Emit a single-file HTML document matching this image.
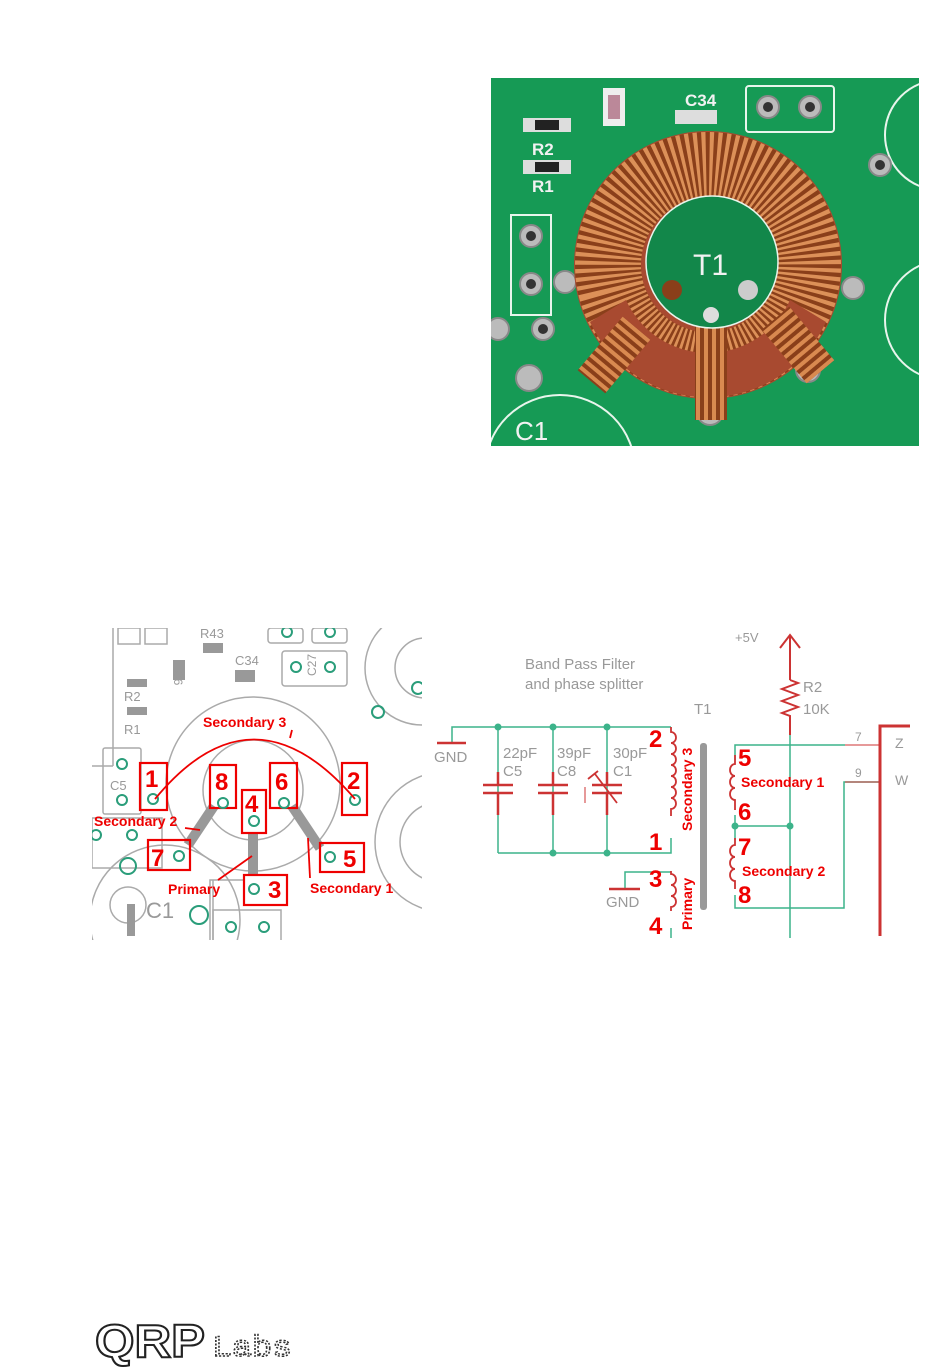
<!DOCTYPE html>
<html><head><meta charset="utf-8"><style>
html,body{margin:0;padding:0;background:#fff;}
body{width:950px;height:1369px;position:relative;overflow:hidden;font-family:"Liberation Sans",sans-serif;}
svg{position:absolute;left:0;top:0;}
</style></head><body>
<svg width="950" height="1369" viewBox="0 0 950 1369" xmlns="http://www.w3.org/2000/svg">
<defs>
<clipPath id="ph"><rect x="491" y="78" width="428" height="368"/></clipPath>
<clipPath id="pcb"><rect x="92" y="628" width="330" height="312"/></clipPath>
<pattern id="wind" width="8" height="8" patternUnits="userSpaceOnUse"><rect width="8" height="8" fill="#8a3f1a"/><rect width="4" height="8" fill="#d98a50"/></pattern>
<pattern id="windh" width="8" height="8" patternUnits="userSpaceOnUse"><rect width="8" height="8" fill="#8a3f1a"/><rect width="8" height="4" fill="#d98a50"/></pattern>
</defs>

<!-- PHOTO -->
<g clip-path="url(#ph)">
<rect x="491" y="78" width="428" height="368" fill="#169a55"/>
<g fill="none" stroke="#e8f5ec" stroke-width="2">
<rect x="746" y="86" width="88" height="46" rx="3"/>
<rect x="511" y="215" width="40" height="100"/>
<circle cx="940" cy="135" r="55"/><circle cx="945" cy="320" r="60"/>
<circle cx="560" cy="470" r="75"/>
</g>
<rect x="523" y="118" width="48" height="14" fill="#ddd"/><rect x="535" y="120" width="24" height="10" fill="#222"/>
<rect x="523" y="160" width="48" height="14" fill="#ddd"/><rect x="535" y="162" width="24" height="10" fill="#222"/>
<rect x="603" y="88" width="22" height="38" fill="#eee"/><rect x="608" y="95" width="12" height="24" fill="#b89"/>
<rect x="675" y="110" width="42" height="14" fill="#ddd"/>
<text x="532" y="155" font-size="17" font-weight="bold" fill="#f2f2f2">R2</text>
<text x="532" y="192" font-size="17" font-weight="bold" fill="#f2f2f2">R1</text>
<text x="685" y="106" font-size="17" font-weight="bold" fill="#f2f2f2">C34</text>
<text x="515" y="440" font-size="26" fill="#f2f2f2">C1</text>
<g fill="#bbb" stroke="#888" stroke-width="2">
<circle cx="768" cy="107" r="11"/><circle cx="810" cy="107" r="11"/><circle cx="880" cy="165" r="11"/>
<circle cx="531" cy="236" r="11"/><circle cx="531" cy="284" r="11"/><circle cx="498" cy="329" r="11"/><circle cx="543" cy="329" r="11"/>
<circle cx="529" cy="378" r="13"/><circle cx="608" cy="361" r="12"/><circle cx="710" cy="412" r="13"/><circle cx="808" cy="370" r="12"/>
<circle cx="565" cy="282" r="11"/><circle cx="853" cy="288" r="11"/>
</g>
<g fill="#333"><circle cx="768" cy="107" r="5"/><circle cx="810" cy="107" r="5"/><circle cx="880" cy="165" r="5"/><circle cx="531" cy="236" r="5"/><circle cx="531" cy="284" r="5"/><circle cx="543" cy="329" r="5"/></g>
<circle cx="708" cy="265" r="134" fill="#a84a30"/>
<circle cx="708" cy="265" r="100" fill="none" stroke="#8a3f1a" stroke-width="66"/>
<path d="M 708 265 L 585 320 A 134 134 0 0 1 831 320 Z" fill="none"/>
<circle cx="708" cy="265" r="100" fill="none" stroke="#dc9058" stroke-width="66" stroke-dasharray="4.5 4.5" transform="rotate(165 708 265)" pathLength="628" style="stroke-dasharray:3.3 3.3 3.3 3.3"/>
<path d="M 590 322 A 130 130 0 0 0 826 322 L 790 300 A 90 90 0 0 1 626 300 Z" fill="#a84a30"/>
<rect x="695" y="305" width="32" height="115" fill="url(#wind)"/>
<rect x="596" y="320" width="36" height="70" fill="url(#windh)" transform="rotate(40 614 355)"/>
<rect x="780" y="310" width="36" height="70" fill="url(#windh)" transform="rotate(-40 798 345)"/>
<circle cx="712" cy="262" r="66" fill="#12874a" stroke="#e8f5ec" stroke-width="1.5"/>
<text x="693" y="275" font-size="30" fill="#f2f2f2">T1</text>
<circle cx="672" cy="290" r="10" fill="#8a3f1a"/><circle cx="748" cy="290" r="10" fill="#ccc"/><circle cx="711" cy="315" r="8" fill="#ddd"/>
</g>

<!-- PCB LAYOUT -->
<g clip-path="url(#pcb)">
<rect x="92" y="628" width="330" height="312" fill="#fff"/>
<g fill="none" stroke="#aaa" stroke-width="1.5">
<circle cx="253" cy="784" r="87"/><circle cx="253" cy="790" r="50"/>
<circle cx="422" cy="668" r="57"/><circle cx="425" cy="668" r="30"/>
<circle cx="445" cy="842" r="70"/><circle cx="440" cy="842" r="40"/>
<circle cx="165" cy="920" r="75"/><circle cx="128" cy="905" r="18"/>
<rect x="103" y="748" width="38" height="66" rx="2"/>
<rect x="92" y="818" width="70" height="50"/>
<rect x="282" y="651" width="65" height="35" rx="3"/>
<rect x="268" y="628" width="35" height="15" rx="3"/><rect x="312" y="628" width="35" height="15" rx="3"/>
<rect x="118" y="628" width="22" height="16"/><rect x="145" y="628" width="22" height="16"/>
<line x1="113" y1="628" x2="113" y2="766"/><line x1="92" y1="766" x2="113" y2="766"/>
<path d="M210 940 V880 H243"/><path d="M213 880 V940"/><rect x="213" y="910" width="68" height="40"/>
</g>
<rect x="127" y="679" width="20" height="8" fill="#999"/><rect x="127" y="707" width="20" height="8" fill="#999"/>
<rect x="203" y="643" width="20" height="10" fill="#999"/><rect x="173" y="660" width="12" height="20" fill="#999"/><rect x="235" y="670" width="20" height="12" fill="#999"/>
<rect x="127" y="904" width="8" height="32" fill="#999"/>
<g font-size="13" fill="#999">
<text x="124" y="701">R2</text><text x="124" y="734">R1</text><text x="235" y="665">C34</text><text x="200" y="638">R43</text>
<text x="110" y="790">C5</text><text x="146" y="918" font-size="22">C1</text>
<text x="190" y="686" font-size="12" transform="rotate(90 190 670)">C6</text>
<text x="306" y="674" font-size="12" transform="rotate(-90 312 670)">C27</text>
</g>
<g stroke="#999" stroke-width="10" fill="none">
<line x1="253" y1="833" x2="253" y2="876"/><line x1="214" y1="806" x2="188" y2="845"/><line x1="292" y1="806" x2="320" y2="848"/>
</g>
<g fill="none" stroke="#2a9d7a" stroke-width="2">
<circle cx="122" cy="764" r="5"/><circle cx="122" cy="800" r="5"/><circle cx="96" cy="835" r="5"/><circle cx="132" cy="835" r="5"/>
<circle cx="128" cy="866" r="8"/><circle cx="199" cy="915" r="9"/><circle cx="231" cy="927" r="5"/><circle cx="264" cy="927" r="5"/>
<circle cx="296" cy="667" r="5"/><circle cx="330" cy="667" r="5"/><circle cx="378" cy="712" r="6"/><circle cx="418" cy="688" r="6"/>
<circle cx="287" cy="632" r="5"/><circle cx="330" cy="632" r="5"/>
</g>
<g fill="none" stroke="#e00" stroke-width="2.2">
<rect x="140" y="763" width="27" height="47"/><rect x="210" y="765" width="26" height="43"/><rect x="242" y="790" width="24" height="43"/>
<rect x="270" y="763" width="27" height="45"/><rect x="342" y="763" width="25" height="52"/><rect x="148" y="840" width="42" height="30"/>
<rect x="320" y="843" width="44" height="29"/><rect x="244" y="875" width="43" height="30"/>
</g>
<g fill="none" stroke="#2a9d7a" stroke-width="2">
<circle cx="153" cy="799" r="5"/><circle cx="223" cy="803" r="5"/><circle cx="254" cy="821" r="5"/><circle cx="284" cy="803" r="5"/>
<circle cx="355" cy="800" r="5"/><circle cx="179" cy="856" r="5"/><circle cx="330" cy="857" r="5"/><circle cx="254" cy="889" r="5"/>
</g>
<g fill="#e00" font-weight="bold" font-size="24">
<text x="145" y="787">1</text><text x="215" y="790">8</text><text x="245" y="812">4</text><text x="275" y="790">6</text><text x="347" y="789">2</text>
<text x="151" y="866">7</text><text x="343" y="867">5</text><text x="268" y="898">3</text>
</g>
<g fill="none" stroke="#e00" stroke-width="1.8">
<path d="M155 799 Q 253 680 355 799"/>
<line x1="292" y1="730" x2="290" y2="738"/>
<line x1="185" y1="828" x2="200" y2="830"/>
<line x1="218" y1="880" x2="252" y2="856"/>
<line x1="308" y1="838" x2="310" y2="878"/>
</g>
<g fill="#e00" font-weight="bold" font-size="14">
<text x="203" y="727">Secondary 3</text><text x="94" y="826">Secondary 2</text><text x="168" y="894">Primary</text><text x="310" y="893">Secondary 1</text>
</g>
</g>

<!-- SCHEMATIC -->
<g fill="none" stroke="#3cb38a" stroke-width="1.5">
<path d="M452 742 V727 H671"/>
<line x1="498" y1="727" x2="498" y2="853"/><line x1="553" y1="727" x2="553" y2="853"/><line x1="607" y1="727" x2="607" y2="853"/>
<path d="M498 853 H671 V838"/>
<path d="M671 872 H625 V888"/>
<line x1="671" y1="928" x2="671" y2="938"/>
<path d="M735 760 V745 H845"/>
<line x1="735" y1="815" x2="735" y2="840"/><line x1="735" y1="826" x2="790" y2="826"/>
<path d="M735 895 V908 H844 V782 H880"/>
<line x1="790" y1="720" x2="790" y2="938"/>
</g>
<g fill="#3cb38a"><circle cx="498" cy="727" r="3.5"/><circle cx="553" cy="727" r="3.5"/><circle cx="607" cy="727" r="3.5"/><circle cx="553" cy="853" r="3.5"/><circle cx="607" cy="853" r="3.5"/><circle cx="735" cy="826" r="3.5"/><circle cx="790" cy="826" r="3.5"/></g>
<g fill="none" stroke="#c33" stroke-width="2.5">
<line x1="437" y1="743" x2="466" y2="743"/><line x1="609" y1="889" x2="640" y2="889"/>
<line x1="483" y1="785" x2="513" y2="785"/><line x1="483" y1="793" x2="513" y2="793"/>
<line x1="538" y1="785" x2="568" y2="785"/><line x1="538" y1="793" x2="568" y2="793"/>
<line x1="592" y1="785" x2="622" y2="785"/><line x1="592" y1="793" x2="622" y2="793"/>
<line x1="498" y1="772" x2="498" y2="785"/><line x1="498" y1="793" x2="498" y2="815"/>
<line x1="553" y1="772" x2="553" y2="785"/><line x1="553" y1="793" x2="553" y2="815"/>
<line x1="607" y1="772" x2="607" y2="785"/><line x1="607" y1="793" x2="607" y2="815"/>
<line x1="595" y1="774" x2="617" y2="803" stroke-width="1.8"/><line x1="588" y1="779" x2="598" y2="771" stroke-width="1.8"/>
<line x1="585" y1="803" x2="585" y2="787" stroke-width="1"/>
<path d="M671 727 v5 a5 5.5 0 0 1 0 11 a5 5.5 0 0 1 0 11 a5 5.5 0 0 1 0 11 a5 5.5 0 0 1 0 11 a5 5.5 0 0 1 0 11 a5 5.5 0 0 1 0 11 a5 5.5 0 0 1 0 11 v7" stroke-width="1.8"/>
<path d="M671 871 v3 a5 5.5 0 0 1 0 11 a5 5.5 0 0 1 0 11 a5 5.5 0 0 1 0 11 v4" stroke-width="1.8"/>
<path d="M735 755 v9 a5 6 0 0 0 0 12 a5 6 0 0 0 0 12 a5 6 0 0 0 0 12 v10" stroke-width="1.8"/>
<path d="M735 838 v7 a5 6 0 0 0 0 12 a5 6 0 0 0 0 12 a5 6 0 0 0 0 12 v8" stroke-width="1.8"/>
<path d="M845 745 H880 M845 782 H880" stroke-width="1"/>
<path d="M880 936 V726 H910" stroke-width="3"/>
<path d="M780 648 L790 635 L800 648 M790 635 V680" stroke-width="2"/>
<path d="M790 680 L798 683 L782 689 L798 695 L782 701 L798 707 L782 713 L790 716 V735" stroke-width="2"/>
</g>
<rect x="700" y="743" width="7" height="167" rx="3" fill="#999"/>
<g fill="#999" font-size="15">
<text x="525" y="669">Band Pass Filter</text><text x="525" y="689">and phase splitter</text>
<text x="694" y="714">T1</text><text x="434" y="762">GND</text><text x="606" y="907">GND</text>
<text x="503" y="758">22pF</text><text x="503" y="776">C5</text>
<text x="557" y="758">39pF</text><text x="557" y="776">C8</text>
<text x="613" y="758">30pF</text><text x="613" y="776">C1</text>
<text x="803" y="692">R2</text><text x="803" y="714">10K</text>
<text x="735" y="642" font-size="13">+5V</text>
<text x="895" y="748" font-size="14">Z</text><text x="895" y="785" font-size="14">W</text>
<text x="855" y="741" font-size="12">7</text><text x="855" y="777" font-size="12">9</text>
</g>
<g fill="#e00" font-weight="bold" font-size="24">
<text x="649" y="747">2</text><text x="649" y="850">1</text><text x="649" y="887">3</text><text x="649" y="934">4</text>
<text x="738" y="766">5</text><text x="738" y="820">6</text><text x="738" y="855">7</text><text x="738" y="903">8</text>
</g>
<g fill="#e00" font-weight="bold" font-size="14">
<text x="741" y="787">Secondary 1</text><text x="742" y="876">Secondary 2</text>
<text transform="translate(692 831) rotate(-90)">Secondary 3</text>
<text transform="translate(692 930) rotate(-90)">Primary</text>
</g>

<!-- LOGO -->
<text x="95" y="1357" font-size="46" font-weight="bold" fill="#fff" stroke="#222" stroke-width="2" textLength="110" lengthAdjust="spacingAndGlyphs">QRP</text>
<text x="212" y="1356" font-size="30" fill="none" stroke="#333" stroke-width="1.5" stroke-dasharray="2 1.5" font-family="Liberation Mono, monospace" textLength="80" lengthAdjust="spacingAndGlyphs">Labs</text>
</svg>
</body></html>
